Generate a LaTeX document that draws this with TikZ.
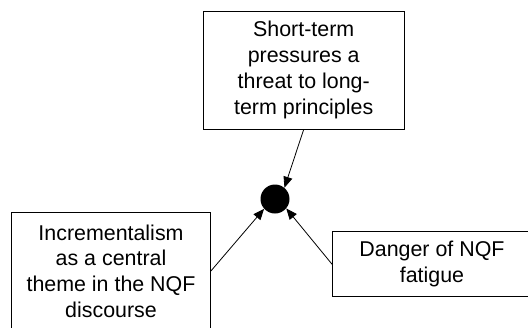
\documentclass[tikz,border=0pt]{standalone}
\usepackage{fontspec}
\setmainfont{Liberation Sans}
\usetikzlibrary{arrows.meta}
\tikzstyle{factor}=[draw,line width=0.8pt,align=center,minimum width=199pt,inner sep=0pt]
\tikzstyle{junction}=[circle,fill=black,inner sep=0pt,minimum size=29pt]
\tikzstyle{link}=[line width=0.8pt,-{Triangle[length=11pt,width=9pt]}]

\begin{document}
\begin{tikzpicture}[x=1pt,y=-1pt,font=\fontsize{21.4}{25.7}\selectfont]
    \clip (0,0) rectangle (528,327);
    \node[junction] (dot) at (275,199) {};
    \node[factor,minimum width=201pt,minimum height=118pt] (short) at (303.7,70) {Short-term\\pressures a\\threat to long-\\term principles};
    \node[factor,minimum height=118pt] (incr) at (111,271) {Incrementalism\\as a central\\theme in the NQF\\discourse};
    \node[factor,minimum height=65pt] (fatigue) at (432,264.3) {Danger of NQF\\fatigue};
    \draw[link] (short.south) -- (dot.50);
    \draw[link] (incr.east) -- (dot.222);
    \draw[link] (fatigue.west) -- (dot.-40);
\end{tikzpicture}
\end{document}
